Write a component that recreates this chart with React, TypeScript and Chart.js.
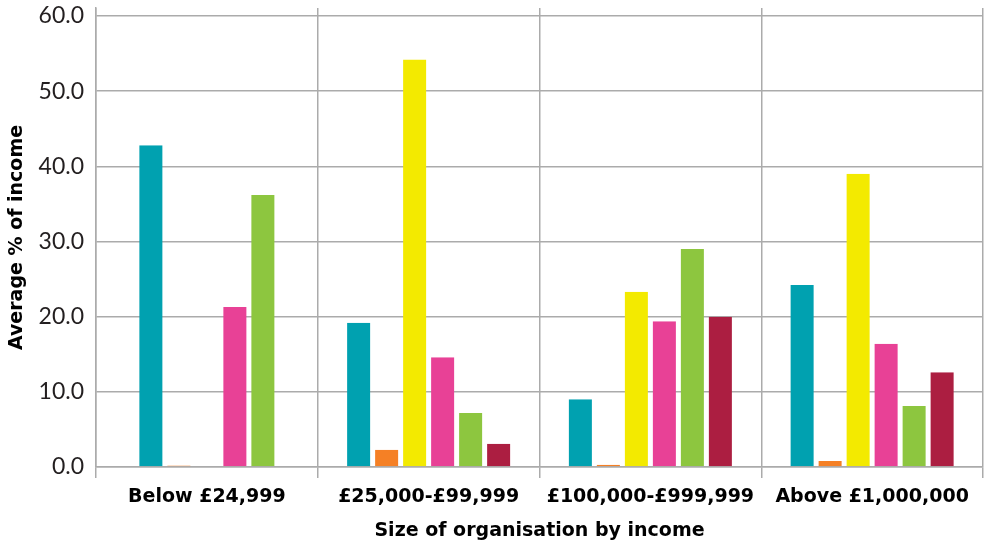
import React, { useEffect, useRef } from 'react';
import { Chart, registerables } from 'chart.js';

Chart.register(...registerables);

const categories = ['Below £24,999', '£25,000-£99,999', '£100,000-£999,999', 'Above £1,000,000'];
const tealValues = [42.8, 19.2, 9.0, 24.2];
const orangeValues = [0.2, 2.3, 0.3, 0.8];
const yellowValues = [0, 54.2, 23.3, 39.0];
const pinkValues = [21.3, 14.6, 19.4, 16.4];
const greenValues = [36.2, 7.2, 29.0, 8.1];
const redValues: (number | null)[] = [null, 3.1, 20.0, 12.6];
const seriesColors = ['#00a1b0', '#f58025', '#f3ea00', '#e84196', '#8dc63f', '#ac1e41'];

const yTitle = 'Average % of income';
const xTitle = 'Size of organisation by income';

export default function App() {
  const canvasRef = useRef<HTMLCanvasElement | null>(null);

  useEffect(() => {
    if (!canvasRef.current) return;
    const allSeries = [tealValues, orangeValues, yellowValues, pinkValues, greenValues, redValues];
    const gridColor = '#ababab';
    const boldFont = { family: '"DejaVu Sans", sans-serif', size: 19, weight: 'bold' };
    const chart = new Chart(canvasRef.current, {
      type: 'bar',
      data: {
        labels: categories,
        datasets: allSeries.map((values, i) => ({
          data: values,
          backgroundColor: seriesColors[i],
          borderColor: 'rgba(0,0,0,0)',
          borderWidth: { left: 2.5, right: 2.5, top: 0, bottom: 0 },
          borderSkipped: false,
          inflateAmount: 0,
          barThickness: 28,
        })),
      },
      options: {
        responsive: false,
        animation: false,
        skipNull: true,
        layout: { padding: { top: 8, right: 6, left: 0, bottom: 0 } },
        plugins: {
          legend: { display: false },
          tooltip: { enabled: false },
        },
        scales: {
          x: {
            type: 'category',
            offset: true,
            grid: {
              display: true,
              offset: true,
              color: gridColor,
              lineWidth: 1.5,
              drawTicks: true,
              tickLength: 11,
              tickColor: gridColor,
            },
            border: { display: true, color: gridColor, width: 1.5 },
            ticks: {
              color: '#000000',
              padding: 8,
              maxRotation: 0,
              autoSkip: false,
              font: boldFont,
            },
            title: {
              display: true,
              text: xTitle,
              color: '#000000',
              padding: { top: 0, bottom: 1 },
              font: boldFont,
            },
            afterFit: (scale: any) => {
              scale.height = 76;
              scale.paddingLeft = 0;
              scale.paddingRight = 0;
            },
          },
          y: {
            type: 'linear',
            min: 0,
            max: 61.06,
            grid: {
              color: gridColor,
              lineWidth: 1.5,
              drawTicks: false,
            },
            border: { display: true, color: gridColor, width: 1.5 },
            ticks: {
              stepSize: 10,
              includeBounds: false,
              padding: 12,
              color: '#231f20',
              font: { family: 'Lato, sans-serif', size: 23 },
              callback: (v: any) => Number(v).toFixed(1),
            },
            title: {
              display: true,
              text: yTitle,
              color: '#000000',
              padding: { top: 6, bottom: 0 },
              font: boldFont,
            },
            afterFit: (scale: any) => {
              scale.width = 96;
              scale.paddingTop = 0;
              scale.paddingBottom = 0;
            },
          },
        },
      } as any,
    });
    return () => chart.destroy();
  }, []);

  return (
    <div style={{ position: 'absolute', left: 0, top: 0, width: 989, height: 543, background: '#ffffff' }}>
      <canvas ref={canvasRef} width={989} height={543} style={{ display: 'block' }} />
    </div>
  );
}
